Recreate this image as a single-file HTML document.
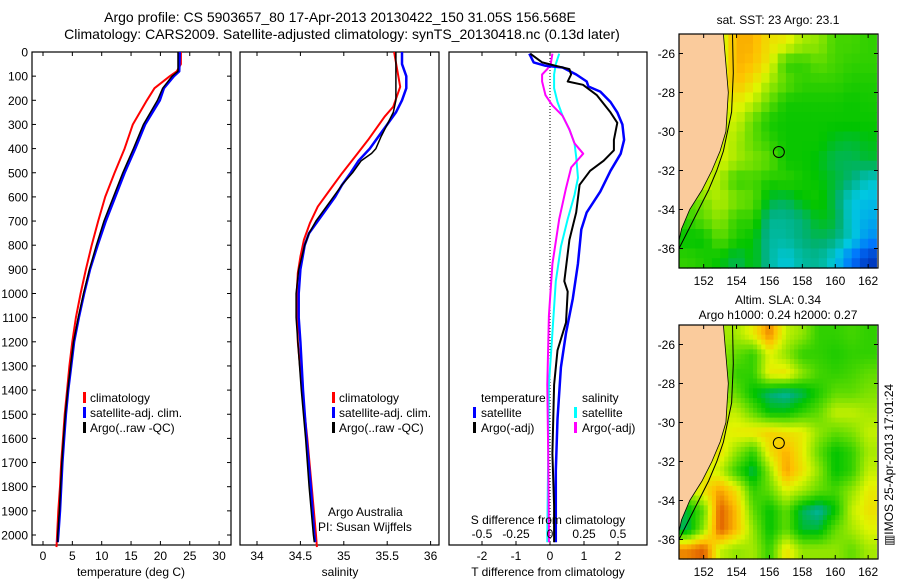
<!DOCTYPE html>
<html><head><meta charset="utf-8"><style>
html,body{margin:0;padding:0;background:#fff;}
svg{display:block;font-family:"Liberation Sans",sans-serif;}
</style></head><body>
<svg id="fig" width="900" height="580" viewBox="0 0 900 580">
<text x="340" y="22" font-size="14" text-anchor="middle">Argo profile: CS 5903657_80 17-Apr-2013 20130422_150 31.05S 156.568E</text>
<text x="342" y="39" font-size="14" text-anchor="middle">Climatology: CARS2009. Satellite-adjusted climatology: synTS_20130418.nc (0.13d later)</text>
</svg>
<script>
// ---------- data ----------
const depthTicks=[0,100,200,300,400,500,600,700,800,900,1000,1100,1200,1300,1400,1500,1600,1700,1800,1900,2000];
const tempTicks=[0,5,10,15,20,25,30];
const salTicks=[34,34.5,35,35.5,36];
const salTickLabels=["34","34.5","35","35.5","36"];
const tdiffTicks=[-2,-1,0,1,2];
const sdiffTicks=[-0.5,-0.25,0,0.25,0.5];
const sdiffTickLabels=["-0.5","-0.25","0","0.25","0.5"];

const tClimD=[0,50,80,100,150,200,300,400,500,600,700,800,900,1000,1100,1200,1300,1400,1500,1600,1700,1800,1900,2000,2050];
const tClimV=[23.5,23.5,22.8,21.6,19.0,17.7,15.3,13.9,12.2,10.6,9.4,8.3,7.3,6.4,5.6,5.0,4.5,4.1,3.7,3.4,3.1,2.9,2.6,2.4,2.3];
const tSatD=[0,80,100,150,200,300,400,500,600,700,800,900,1000,1100,1200,1300,1400,1500,1600,1700,1800,1900,2000,2030];
const tSatV=[23.3,23.2,22.3,20.6,19.9,17.4,15.7,13.9,12.3,10.7,9.3,8.0,7.0,6.1,5.3,4.8,4.3,3.9,3.6,3.3,3.1,2.9,2.6,2.5];
const tArgoD=[0,80,100,150,200,300,400,500,600,700,800,900,1000,1100,1200,1300,1400,1500,1600,1700,1800,1900,2000,2030];
const tArgoV=[23.0,23.0,22.0,20.4,19.5,17.1,15.4,13.6,12.0,10.4,9.1,7.9,6.9,6.0,5.2,4.7,4.2,3.8,3.5,3.2,3.0,2.8,2.5,2.5];

const sClimD=[0,144,226,268,364,433,502,571,640,709,778,847,916,985,1200,1400,1600,1800,2000,2050];
const sClimV=[35.58,35.65,35.57,35.47,35.28,35.13,34.98,34.84,34.70,34.61,34.54,34.50,34.47,34.46,34.47,34.52,34.58,34.63,34.68,34.69];
const sSatD=[0,50,100,150,200,250,300,350,400,450,500,550,600,650,700,750,800,900,1000,1100,1200,1400,1600,1800,2000,2030];
const sSatV=[35.67,35.67,35.72,35.72,35.67,35.60,35.50,35.40,35.30,35.17,35.08,34.98,34.90,34.80,34.70,34.60,34.55,34.50,34.48,34.48,34.50,34.53,34.57,34.62,34.66,34.67];
const sArgoD=[0,100,200,250,300,350,400,420,450,500,550,600,650,700,750,800,900,1000,1100,1200,1400,1600,1800,2000,2030];
const sArgoV=[35.60,35.60,35.60,35.57,35.50,35.43,35.37,35.32,35.20,35.10,34.98,34.88,34.78,34.68,34.60,34.55,34.48,34.45,34.45,34.47,34.51,34.56,34.60,34.65,34.66];

const dTSatD=[7,43,57,64,93,122,143,164,207,250,300,364,421,492,578,664,735,878,1021,1164,1306,1520,1735,1991,2030];
const dTSatV=[-0.61,-0.48,-0.13,0.37,0.77,1.08,1.13,1.48,1.78,1.98,2.13,2.18,2.08,1.78,1.48,1.08,0.92,0.82,0.67,0.47,0.32,0.22,0.17,0.17,0.17];
const dTArgoD=[7,43,57,71,93,122,136,179,250,293,364,407,450,492,550,664,778,949,992,1120,1235,1378,1663,1877,1991,2030];
const dTArgoV=[-0.58,-0.23,0.17,0.57,0.62,0.52,0.97,1.38,1.78,1.98,1.88,1.88,1.58,1.18,0.87,0.77,0.57,0.42,0.52,0.47,0.22,0.12,0.07,0.12,0.12,0.12];
const dSSatD=[7,50,93,150,207,264,321,378,435,521,592,692,806,949,1164,1378,1663,1991,2030];
const dSSatV=[0.068,0.043,0.03,0.03,0.055,0.093,0.143,0.18,0.193,0.206,0.18,0.13,0.08,0.043,0.018,-0.008,-0.013,-0.02,-0.02];
const dSArgoD=[7,50,71,93,122,179,221,264,321,378,421,478,564,692,878,1092,1378,1663,1991,2030];
const dSArgoV=[0.018,0.005,-0.02,-0.058,-0.058,-0.033,0.018,0.093,0.143,0.18,0.244,0.156,0.118,0.068,0.018,-0.008,-0.02,-0.013,-0.008,-0.008];

const mapLonTicks=[152,154,156,158,160,162];
const mapLatTicks=[-26,-28,-30,-32,-34,-36];
const sstGrid=[
[.6,.6,.65,.8,.8,.72,.7,.62,.6,.52,.52,.5],
[.6,.6,.65,.8,.78,.7,.5,.5,.55,.52,.5,.5],
[.6,.6,.68,.78,.72,.62,.55,.5,.5,.5,.48,.48],
[.6,.6,.68,.7,.65,.55,.47,.47,.47,.47,.46,.47],
[.6,.6,.65,.66,.55,.47,.46,.46,.46,.46,.46,.46],
[.6,.6,.68,.62,.55,.5,.46,.46,.46,.43,.42,.44],
[.6,.62,.68,.62,.58,.55,.46,.46,.44,.4,.4,.42],
[.6,.68,.62,.5,.52,.48,.5,.47,.45,.42,.38,.32],
[.55,.58,.64,.58,.55,.42,.4,.45,.47,.4,.3,.28],
[.5,.55,.6,.5,.5,.36,.36,.38,.44,.42,.3,.25],
[.45,.45,.55,.48,.45,.35,.35,.38,.4,.38,.32,.2],
[.5,.48,.45,.4,.45,.35,.3,.35,.36,.3,.15,.05]];
const slaGrid=[
[.6,.6,.62,.62,.7,.85,.65,.6,.5,.5,.52,.5],
[.6,.6,.6,.55,.5,.68,.6,.5,.5,.48,.5,.5],
[.6,.6,.62,.5,.5,.7,.72,.6,.52,.5,.52,.55],
[.6,.6,.62,.55,.45,.38,.35,.4,.48,.55,.55,.58],
[.6,.6,.65,.65,.55,.45,.45,.5,.55,.65,.65,.62],
[.6,.6,.68,.7,.72,.75,.72,.7,.6,.55,.58,.65],
[.6,.68,.72,.6,.5,.72,.8,.7,.55,.45,.5,.62],
[.65,.7,.65,.5,.4,.6,.82,.72,.6,.45,.5,.65],
[.65,.72,.82,.72,.5,.55,.68,.62,.55,.52,.6,.7],
[.42,.55,.9,.78,.55,.45,.55,.4,.35,.45,.65,.72],
[.4,.6,.9,.78,.6,.45,.55,.42,.42,.55,.62,.68],
[.85,.9,.65,.6,.62,.5,.72,.6,.6,.6,.55,.62]];
const coastLat=[-25,-26,-28,-30,-31,-32,-33,-34,-35,-35.6,-37];
const coastLon=[153.2,153.3,153.5,153.35,153.0,152.5,151.9,151.15,150.65,150.5,150.5];
const shelfLat=[-25,-27,-29,-31,-32,-33,-34,-35,-36];
const shelfLon=[153.75,153.8,153.7,153.2,152.8,152.3,151.7,151.1,150.5];
const argoLon=156.57, argoLat=-31.05;

// ---------- helpers ----------
const NS="http://www.w3.org/2000/svg";
const svg=document.getElementById('fig');
function mk(tag,attrs,parent){const e=document.createElementNS(NS,tag);for(const k in attrs)e.setAttribute(k,attrs[k]);(parent||svg).appendChild(e);return e;}
const top0=52, bot0=545;
const yD=d=>52+d*0.2415;
const panels=[{x0:32,x1:231},{x0:240,x1:439},{x0:449,x1:647}];
const xT=v=>43+v*5.87;
const xS=v=>257+(v-34)*86.8;
const xDT=v=>550+v*34;
const xDS=v=>550+v*136;

function box(p,name){
  const r=mk('rect',{x:p.x0,y:top0,width:p.x1-p.x0,height:bot0-top0,fill:'none',stroke:'#000','stroke-width':1.2});
  
  
}
function line(D,V,fx,color,w,name){
  const pts=D.map((d,i)=>fx(V[i]).toFixed(1)+','+yD(d).toFixed(1)).join(' ');
  const pl=mk('polyline',{points:pts,fill:'none',stroke:color,'stroke-width':w,'stroke-linejoin':'round'});
  
  
}
function xticks(vals,labels,fx,p,y,name){
  vals.forEach((v,i)=>{
    const x=fx(v);
    mk('line',{x1:x,x2:x,y1:top0,y2:top0+4,stroke:'#000'});
    mk('line',{x1:x,x2:x,y1:bot0,y2:bot0-4,stroke:'#000'});
    if(y){const t=mk('text',{x:x,y:y,'font-size':12,'text-anchor':'middle'});t.textContent=labels[i];
      
      }
  });
}
function txt(x,y,s,name,opts){
  const t=mk('text',Object.assign({x:x,y:y,'font-size':12},opts||{}));t.textContent=s;
  
  
  return t;
}
function legBar(x,y,color,name){
  const r=mk('rect',{x:x,y:y-10,width:3,height:11,fill:color});
  
  
}

// ---------- panel 1 temperature ----------
box(panels[0],'temperature-panel');
depthTicks.forEach(d=>{
  const y=yD(d);
  mk('line',{x1:32,x2:36,y1:y,y2:y,stroke:'#000'});
  mk('line',{x1:231,x2:227,y1:y,y2:y,stroke:'#000'});
  const t=mk('text',{x:28,y:y+4.5,'font-size':12,'text-anchor':'end'});t.textContent=d;
  
  
});
xticks(tempTicks,tempTicks.map(String),xT,panels[0],560,'temperature-tick-label');
line(tClimD,tClimV,xT,'#f00',2,'temperature-climatology-line');
line(tSatD,tSatV,xT,'#00f',2.5,'temperature-satellite-line');
line(tArgoD,tArgoV,xT,'#000',1.5,'temperature-argo-line');
txt(131,576,'temperature (deg C)','temperature-axis-title',{'text-anchor':'middle'});
legBar(83,402,'#f00','legend-climatology-swatch');txt(90,402,'climatology','legend-climatology');
legBar(83,417,'#00f','legend-satellite-swatch');txt(90,417,'satellite-adj. clim.','legend-satellite');
legBar(83,432,'#000','legend-argo-swatch');txt(90,432,'Argo(..raw -QC)','legend-argo');

// ---------- panel 2 salinity ----------
box(panels[1],'salinity-panel');
xticks(salTicks,salTickLabels,xS,panels[1],560,'salinity-tick-label');
line(sClimD,sClimV,xS,'#f00',2,'salinity-climatology-line');
line(sSatD,sSatV,xS,'#00f',2.5,'salinity-satellite-line');
line(sArgoD,sArgoV,xS,'#000',1.5,'salinity-argo-line');
txt(340,576,'salinity','salinity-axis-title',{'text-anchor':'middle'});
legBar(332,402,'#f00','legend2-climatology-swatch');txt(339,402,'climatology','legend2-climatology');
legBar(332,417,'#00f','legend2-satellite-swatch');txt(339,417,'satellite-adj. clim.','legend2-satellite');
legBar(332,432,'#000','legend2-argo-swatch');txt(339,432,'Argo(..raw -QC)','legend2-argo');
txt(328,516,'Argo Australia','argo-australia-label');
txt(318,531,'PI: Susan Wijffels','pi-label');

// ---------- panel 3 differences ----------
box(panels[2],'difference-panel');
xticks(tdiffTicks,tdiffTicks.map(String),xDT,panels[2],560,'t-diff-tick-label');
const z=mk('line',{x1:xDT(0),x2:xDT(0),y1:top0,y2:bot0,stroke:'#000','stroke-dasharray':'1,2'});


line(dSSatD,dSSatV,xDS,'#0ff',2,'s-diff-satellite-line');
line(dSArgoD,dSArgoV,xDS,'#f0f',2,'s-diff-argo-line');
line(dTSatD,dTSatV,xDT,'#00f',2.5,'t-diff-satellite-line');
line(dTArgoD,dTArgoV,xDT,'#000',2,'t-diff-argo-line');
txt(548,576,'T difference from climatology','t-diff-axis-title',{'text-anchor':'middle'});
txt(548,524,'S difference from climatology','s-diff-axis-title',{'text-anchor':'middle'});
sdiffTicks.forEach((v,i)=>{txt(xDS(v),538,sdiffTickLabels[i],'s-diff-tick-label',{'text-anchor':'middle'});});
txt(481,402,'temperature','legend3-temperature-header');
legBar(473,417,'#00f','legend3-t-satellite-swatch');txt(481,417,'satellite','legend3-t-satellite');
legBar(473,432,'#000','legend3-t-argo-swatch');txt(481,432,'Argo(-adj)','legend3-t-argo');
txt(582,402,'salinity','legend3-salinity-header');
legBar(574,417,'#0ff','legend3-s-satellite-swatch');txt(582,417,'satellite','legend3-s-satellite');
legBar(574,432,'#f0f','legend3-s-argo-swatch');txt(582,432,'Argo(-adj)','legend3-s-argo');

// ---------- maps ----------
const cstops=[[0,[0,32,160]],[0.15,[0,112,255]],[0.3,[0,200,224]],[0.38,[0,176,120]],[0.45,[0,196,0]],[0.55,[96,220,0]],[0.68,[224,245,0]],[0.78,[255,192,0]],[0.88,[230,110,0]],[1,[176,32,0]]];
function cmap(v){
  for(let i=1;i<cstops.length;i++){if(v<=cstops[i][0]){const a=cstops[i-1],b=cstops[i];const t=(v-a[0])/(b[0]-a[0]);
    const c=a[1].map((x,j)=>Math.round(x+(b[1][j]-x)*t));return 'rgb('+c.join(',')+')';}}
  return 'rgb(176,32,0)';
}
function sample(grid,fr,fc){
  const n=grid.length,m=grid[0].length;
  fr=Math.max(0,Math.min(n-1,fr));fc=Math.max(0,Math.min(m-1,fc));
  const r0=Math.floor(fr),c0=Math.floor(fc),r1=Math.min(n-1,r0+1),c1=Math.min(m-1,c0+1);
  const tr=fr-r0,tc=fc-c0;
  return grid[r0][c0]*(1-tr)*(1-tc)+grid[r0][c1]*(1-tr)*tc+grid[r1][c0]*tr*(1-tc)+grid[r1][c1]*tr*tc;
}
function drawMap(grid,y0,name,title1,title2,sub){
  const x0=679,w=199,h=234;
  const fx=lon=>x0+(lon-150.5)*w/12.1;
  const fy=lat=>y0+(-25-lat)*h/12;
  const g=mk('g',{});
  
  
  const N=12*sub, cw=w/12.1/sub, ch=h/12/sub;
  for(let r=0;r<N;r++)for(let c=0;c<N;c++){
    const v=sub===1?grid[r][c]:sample(grid,(r+0.5)/sub-0.5,(c+0.5)/sub-0.5);
    const cell=mk('rect',{x:(fx(150.5)+c*cw).toFixed(2),y:(y0+r*ch).toFixed(2),width:(cw+0.6).toFixed(2),height:(ch+0.6).toFixed(2),fill:cmap(v)},g);
    
    
  }
  let land='M'+fx(150.5)+','+fy(-25);
  coastLat.forEach((la,i)=>{land+=' L'+fx(coastLon[i]).toFixed(1)+','+fy(la).toFixed(1);});
  land+=' Z';
  const lp=mk('path',{d:land,fill:'#facb9c',stroke:'#000','stroke-width':0.8},g);
  
  
  const sp=mk('polyline',{points:shelfLat.map((la,i)=>fx(shelfLon[i]).toFixed(1)+','+fy(la).toFixed(1)).join(' '),fill:'none',stroke:'#000','stroke-width':1},g);
  
  
  const ci=mk('circle',{cx:fx(argoLon),cy:fy(argoLat),r:5.5,fill:'none',stroke:'#000','stroke-width':1},g);
  
  
  const fr=mk('rect',{x:x0,y:y0,width:w,height:h,fill:'none',stroke:'#000','stroke-width':1.2},g);
  
  
  mapLonTicks.forEach(lon=>{const x=fx(lon);
    mk('line',{x1:x,x2:x,y1:y0,y2:y0+4,stroke:'#000'},g);mk('line',{x1:x,x2:x,y1:y0+h,y2:y0+h-4,stroke:'#000'},g);
    txt(x,y0+h+17,String(lon),'map-lon-tick-label',{'text-anchor':'middle'});});
  mapLatTicks.forEach(lat=>{const y=fy(lat);
    mk('line',{x1:x0,x2:x0+4,y1:y,y2:y,stroke:'#000'},g);mk('line',{x1:x0+w,x2:x0+w-4,y1:y,y2:y,stroke:'#000'},g);
    txt(x0-4,y+4.5,String(lat),'map-lat-tick-label',{'text-anchor':'end'});});
  if(title2){txt(778,y0-21,title1,'map-title',{'text-anchor':'middle'});txt(778,y0-6,title2,'map-subtitle',{'text-anchor':'middle'});}
  else txt(778,y0-10,title1,'map-title',{'text-anchor':'middle'});
}
drawMap(sstGrid,34,'sst-map','sat. SST: 23 Argo: 23.1',null,2);
drawMap(slaGrid,325,'sla-map','Altim. SLA: 0.34','Argo h1000: 0.24 h2000: 0.27',4);
const im=txt(0,0,'\u25A5IMOS 25-Apr-2013 17:01:24','imos-timestamp',{'text-anchor':'middle',transform:'translate(893,465) rotate(-90)'});
</script>
</body></html>
